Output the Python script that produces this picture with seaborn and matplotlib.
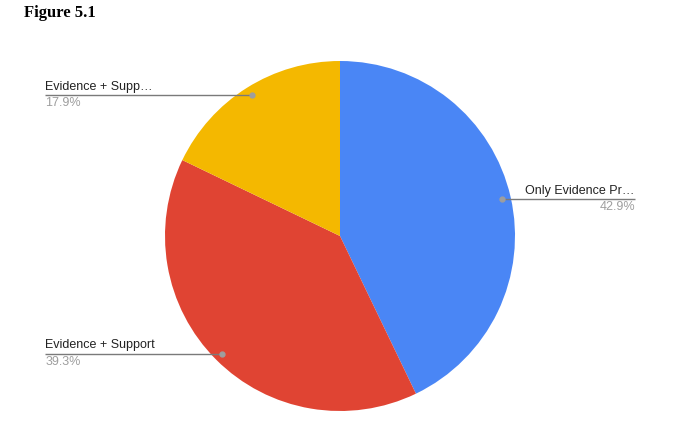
import numpy as np
import matplotlib
matplotlib.use('Agg')
import matplotlib.pyplot as plt
import seaborn as sns

# 数据
labels = ['Only Evidence Pr…', 'Evidence + Support', 'Evidence + Supp…']
counts = [12, 11, 5]
pct_labels = ['42.9%', '39.3%', '17.9%']
colors = ['#4A86F5', '#E04433', '#F4B800']

sns.set_theme(style='white')
plt.rcParams['font.family'] = ['Liberation Sans', 'DejaVu Sans']

fig = plt.figure(figsize=(6.82, 4.4), dpi=100)
fig.patch.set_facecolor('white')

# 饼图区域：中心约 (340, 236)，半径 175 像素
ax = fig.add_axes([165 / 682, 29 / 440, 350 / 682, 350 / 440])
wedges, _ = ax.pie(counts, colors=sns.color_palette(colors), startangle=90,
                   counterclock=False, radius=1.0,
                   wedgeprops=dict(linewidth=0))
ax.set_xlim(-1, 1)
ax.set_ylim(-1, 1)
ax.set_aspect('equal')
ax.axis('off')

# 引线标签
label_x = 1.685
for w, lab, pct in zip(wedges, labels, pct_labels):
    mid = np.deg2rad((w.theta1 + w.theta2) / 2)
    px, py = 0.95 * np.cos(mid), 0.95 * np.sin(mid)
    if px > 0:
        end, ha = label_x, 'right'
    else:
        end, ha = -label_x, 'left'
    ax.plot([px, end], [py, py], color='#7a7a7a', lw=1.0, clip_on=False,
            solid_capstyle='butt')
    ax.plot(px, py, 'o', color='#9e9e9e', ms=3.5, clip_on=False)
    ax.annotate(lab, (end, py), xytext=(0, 1.5), textcoords='offset points',
                ha=ha, va='bottom', fontsize=9, color='#222222',
                annotation_clip=False)
    ax.annotate(pct, (end, py), xytext=(0, -1.5), textcoords='offset points',
                ha=ha, va='top', fontsize=9, color='#9e9e9e',
                annotation_clip=False)

fig.text(24 / 682, 1 - 5 / 440, 'Figure 5.1', fontsize=12, fontweight='bold',
         family=['Liberation Serif', 'DejaVu Serif'], ha='left', va='top',
         color='black')

fig.savefig('out.png', dpi=100, facecolor='white')
